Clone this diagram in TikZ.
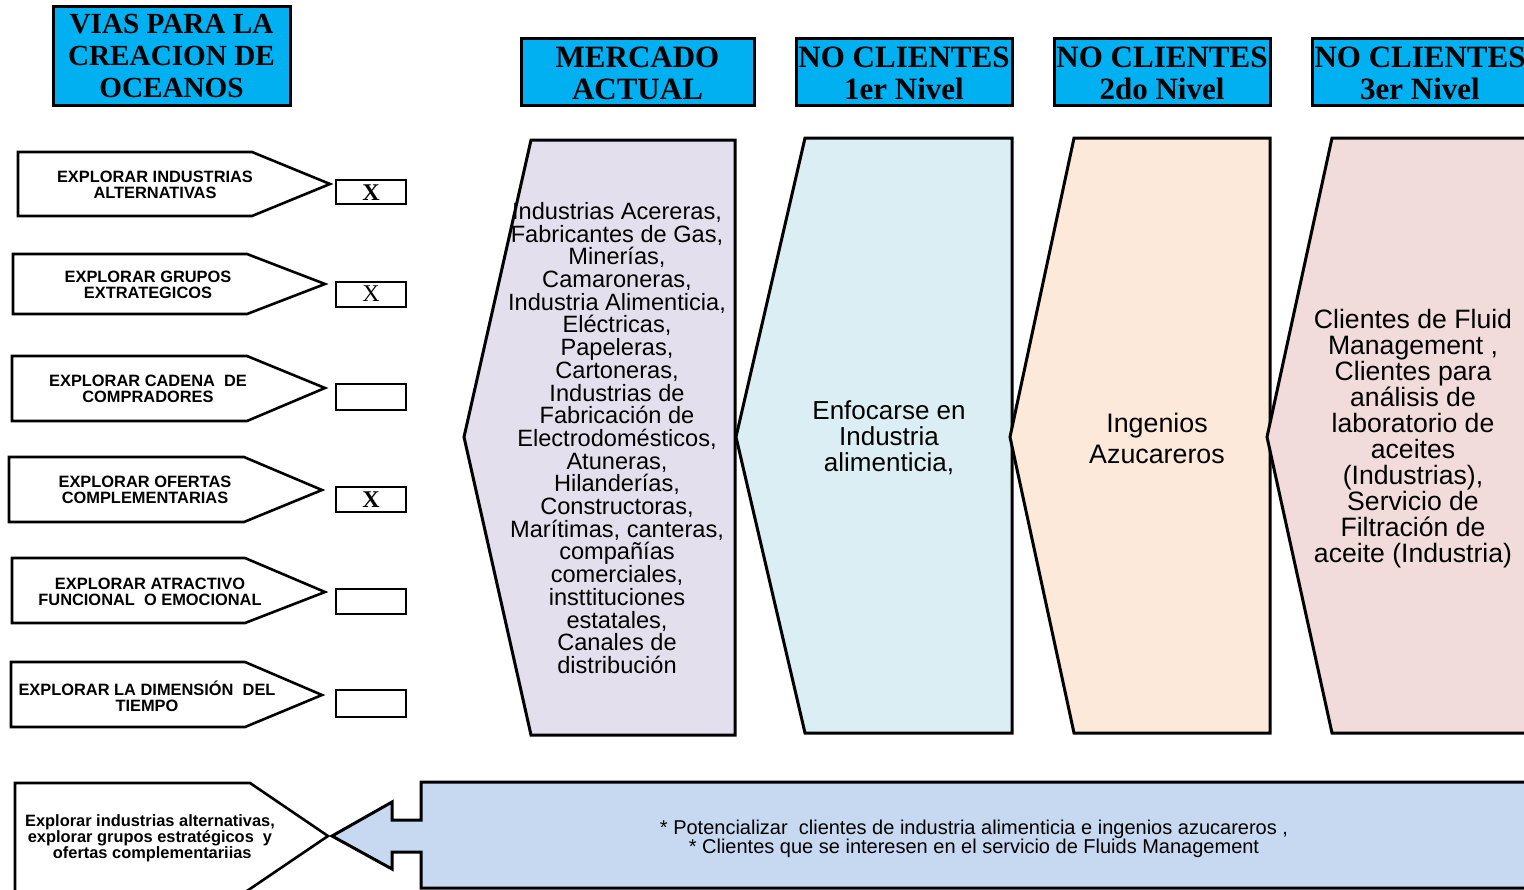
\documentclass[tikz,border=0pt]{standalone}
\usepackage{fontspec}
\setmainfont{Liberation Serif}
\newfontfamily\arialf{Liberation Sans}
\definecolor{hdrcyan}{HTML}{00B0F0}
\definecolor{lavfill}{HTML}{E4DFEC}
\definecolor{bluefill}{HTML}{DAEEF3}
\definecolor{peachfill}{HTML}{FDE9D9}
\definecolor{pinkfill}{HTML}{F2DCDB}
\definecolor{botfill}{HTML}{C6D9F1}
\begin{document}
\begin{tikzpicture}[x=0.5pt,y=-0.5pt,
  hdrbox/.style={draw=black,line width=1.5pt,fill=hdrcyan},
  hdrtext/.style={inner sep=0pt,align=center,font=\bfseries\fontsize{15.5}{16}\selectfont},
  titletext/.style={inner sep=0pt,align=center,font=\bfseries\fontsize{14.6}{16}\selectfont},
  pent/.style={draw=black,line width=1.3pt,fill=white,line join=miter},
  penttext/.style={inner sep=0pt,align=center,font=\arialf\bfseries\fontsize{8.2}{8}\selectfont},
  chk/.style={draw=black,line width=1.3pt,fill=white},
  chktext/.style={inner sep=0pt,font=\fontsize{12}{12}\selectfont},
  big/.style={draw=black,line width=1.5pt,line join=miter},
  bigtext/.style={inner sep=0pt,align=center,text=black},
]
\useasboundingbox (0,0) rectangle (1524,889);
\clip (0,0) rectangle (1524,889);
% title
\draw[hdrbox] (53,6) rectangle (290,105);
\node[titletext] (title) at (171.5,56) {VIAS PARA LA\\CREACION DE\\OCEANOS};
% headers
\draw[hdrbox] (521,38) rectangle (754,105);
\node[hdrtext] (h1) at (637.5,73) {MERCADO\\ACTUAL};
\draw[hdrbox] (796,38) rectangle (1012,105);
\node[hdrtext] (h2) at (904,73) {NO CLIENTES\\1er Nivel};
\draw[hdrbox] (1054,38) rectangle (1270,105);
\node[hdrtext] (h3) at (1162,73) {NO CLIENTES\\2do Nivel};
\draw[hdrbox] (1312,38) rectangle (1540,105);
\node[hdrtext] (h4) at (1420,73) {NO CLIENTES\\3er Nivel};
% left arrows
\draw[pent] (18,152) -- (252,152) -- (330,184) -- (252,216) -- (18,216) -- cycle;
\node[penttext] (p1) at (155,185) {EXPLORAR INDUSTRIAS\\ALTERNATIVAS};
\draw[chk] (336,180) rectangle (406,204);
\node[chktext] (c1) at (371,193) {\bfseries X};

\draw[pent] (13,254) -- (247,254) -- (325,284) -- (247,314) -- (13,314) -- cycle;
\node[penttext] (p2) at (148,285) {EXPLORAR GRUPOS\\EXTRATEGICOS};
\draw[chk] (336,282) rectangle (406,307);
\node[chktext] (c2) at (371,294) {X};

\draw[pent] (12,356) -- (247,356) -- (325,388) -- (247,421) -- (12,421) -- cycle;
\node[penttext] (p3) at (148,389) {EXPLORAR CADENA \ DE\\COMPRADORES};
\draw[chk] (336,384) rectangle (406,410);

\draw[pent] (9,457) -- (244,457) -- (322,490) -- (244,522) -- (9,522) -- cycle;
\node[penttext] (p4) at (145,490) {EXPLORAR OFERTAS\\COMPLEMENTARIAS};
\draw[chk] (336,487) rectangle (406,512);
\node[chktext] (c4) at (371,500) {\bfseries X};

\draw[pent] (12,558) -- (245,558) -- (325,592) -- (245,623) -- (12,623) -- cycle;
\node[penttext] (p5) at (150,592) {EXPLORAR ATRACTIVO\\FUNCIONAL \ O EMOCIONAL};
\draw[chk] (336,589) rectangle (406,614);

\draw[pent] (11,662) -- (245,662) -- (322,695) -- (245,727) -- (11,727) -- cycle;
\node[penttext] (p6) at (147,696) {EXPLORAR LA DIMENSIÓN \ DEL\\TIEMPO};
\draw[chk] (336,690) rectangle (406,717);
% big shapes
\draw[big,fill=lavfill] (531,140) -- (735,140) -- (735,735) -- (531,735) -- (464,437) -- cycle;
\draw[big,fill=bluefill] (805,138) -- (1012,138) -- (1012,733) -- (805,733) -- (736,437) -- cycle;
\draw[big,fill=peachfill] (1074,138) -- (1270,138) -- (1270,733) -- (1074,733) -- (1010,437) -- cycle;
\draw[big,fill=pinkfill] (1332,138) -- (1540,138) -- (1540,733) -- (1332,733) -- (1267,437) -- cycle;
\node[bigtext,font=\arialf\fontsize{11.8}{11.35}\selectfont] (m1) at (617,438) {Industrias Acereras,\\Fabricantes de Gas,\\Minerías,\\Camaroneras,\\Industria Alimenticia,\\Eléctricas,\\Papeleras,\\Cartoneras,\\Industrias de\\Fabricación de\\Electrodomésticos,\\Atuneras,\\Hilanderías,\\Constructoras,\\Marítimas, canteras,\\compañías\\comerciales,\\insttituciones\\estatales,\\Canales de\\distribución};
\node[bigtext,font=\arialf\fontsize{13}{13}\selectfont] (m2) at (889,438) {Enfocarse en\\Industria\\alimenticia,};
\node[bigtext,font=\arialf\fontsize{13.4}{15.5}\selectfont] (m3) at (1157,438) {Ingenios\\Azucareros};
\node[bigtext,font=\arialf\fontsize{13.3}{13}\selectfont] (m4) at (1413,439) {Clientes de Fluid\\Management ,\\Clientes para\\análisis de\\laboratorio de\\aceites\\(Industrias),\\Servicio de\\Filtración de\\aceite (Industria)};
% bottom
\draw[pent] (15,783) -- (250,783) -- (328,836) -- (241,895) -- (15,895) -- cycle;
\node[penttext] (bp) at (150,838) {Explorar industrias alternativas,\\explorar grupos estratégicos \ y\\ \ ofertas complementariias};
\draw[big,fill=botfill] (1540,782) -- (421,782) -- (421,820) -- (392,820) -- (392,802) -- (332,836) -- (392,869) -- (392,852) -- (421,852) -- (421,888) -- (1540,888);
\node[bigtext,font=\arialf\fontsize{10}{9.5}\selectfont] (bt) at (974,839) {* Potencializar \ clientes de industria alimenticia e ingenios azucareros ,\\* Clientes que se interesen en el servicio de Fluids Management};
\end{tikzpicture}
\end{document}
